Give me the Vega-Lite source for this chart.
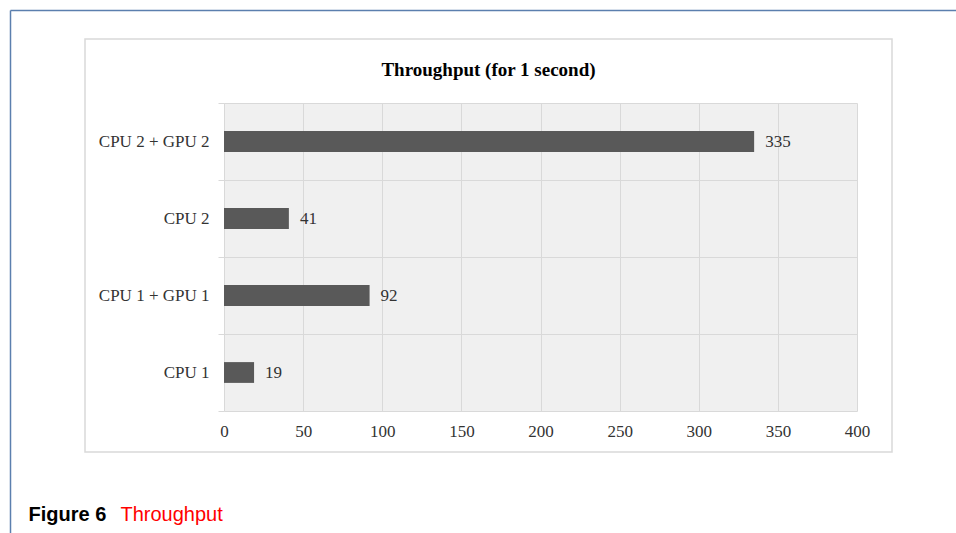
{
  "$schema": "https://vega.github.io/schema/vega-lite/v6.json",
  "width": 807,
  "height": 413,
  "autosize": {"type": "none"},
  "padding": {"left": 85, "top": 39, "right": 64, "bottom": 81},
  "background": "white",
  "config": {
    "view": {"stroke": "#d9d9d9", "strokeWidth": 1.5},
    "axis": {"labelFont": "Liberation Serif", "labelFontSize": 17, "labelColor": "#333333"}
  },
  "title": {
    "text": "Throughput (for 1 second)",
    "font": "Liberation Serif",
    "fontSize": 19,
    "fontWeight": "bold",
    "color": "#000000",
    "anchor": "middle",
    "frame": "group",
    "offset": 0,
    "dy": 88,
    "baseline": "alphabetic"
  },
  "data": {
    "values": [
      {"config": "CPU 2 + GPU 2", "throughput": 335},
      {"config": "CPU 2", "throughput": 41},
      {"config": "CPU 1 + GPU 1", "throughput": 92},
      {"config": "CPU 1", "throughput": 19}
    ]
  },
  "layer": [
    {
      "encoding": {
        "y": {
          "field": "config",
          "type": "nominal",
          "sort": ["CPU 2 + GPU 2", "CPU 2", "CPU 1 + GPU 1", "CPU 1"],
          "scale": {"range": [64, 372], "paddingInner": 0, "paddingOuter": 0},
          "axis": {
            "orient": "left",
            "offset": -139,
            "tickBand": "extent",
            "grid": true,
            "gridColor": "#d9d9d9",
            "gridWidth": 1,
            "ticks": true,
            "tickColor": "#d9d9d9",
            "tickSize": 6,
            "domain": false,
            "labelPadding": 9,
            "title": "Throughput",
            "titleFont": "Liberation Sans",
            "titleFontSize": 20,
            "titleFontWeight": "normal",
            "titleColor": "#ff0000",
            "titleAngle": 0,
            "titleAlign": "left",
            "titleBaseline": "alphabetic",
            "titleX": -104,
            "titleY": 481
          }
        }
      },
      "layer": [
        {
          "mark": {"type": "rect", "fill": "#d9d9d9", "fillOpacity": 0.4},
          "encoding": {
            "x": {"datum": 0, "type": "quantitative"},
            "x2": {"datum": 400}
          }
        },
        {
          "mark": {"type": "bar", "color": "#595959", "height": {"band": 0.27}},
          "encoding": {
            "x": {
              "field": "throughput",
              "type": "quantitative",
              "scale": {"domain": [0, 400], "range": [139, 772], "nice": false},
              "axis": {
                "orient": "top",
                "offset": 0,
                "values": [0, 50, 100, 150, 200, 250, 300, 350, 400],
                "grid": true,
                "gridColor": "#d9d9d9",
                "gridWidth": 1,
                "ticks": false,
                "tickSize": 0,
                "domain": false,
                "labelFlush": false,
                "labelBaseline": "top",
                "labelPadding": -384,
                "title": "Figure 6",
                "titleFont": "Liberation Sans",
                "titleFontSize": 20,
                "titleFontWeight": "bold",
                "titleColor": "#000000",
                "titleAlign": "left",
                "titleBaseline": "alphabetic",
                "titleX": -57,
                "titleY": 481
              }
            }
          }
        },
        {
          "mark": {"type": "text", "align": "left", "baseline": "middle", "dx": 11, "font": "Liberation Serif", "fontSize": 17, "color": "#333333"},
          "encoding": {
            "x": {"field": "throughput", "type": "quantitative"},
            "text": {"field": "throughput", "type": "quantitative"}
          }
        }
      ]
    },
    {
      "data": {"values": [{"a": 0}]},
      "mark": {"type": "point", "opacity": 0},
      "encoding": {
        "x": {
          "datum": 0,
          "type": "quantitative",
          "scale": {"domain": [0, 1], "range": [-75, 871], "nice": false, "zero": false},
          "axis": {"orient": "top", "offset": 29, "domain": true, "domainColor": "#5b7fae", "domainWidth": 1.5, "labels": false, "ticks": false, "grid": false, "title": null}
        },
        "y": {
          "datum": 0,
          "type": "quantitative",
          "scale": {"domain": [0, 1], "range": [-29, 494], "nice": false, "zero": false},
          "axis": {"orient": "left", "offset": 75, "domain": true, "domainColor": "#5b7fae", "domainWidth": 1.5, "labels": false, "ticks": false, "grid": false, "title": null}
        }
      }
    }
  ],
  "resolve": {"scale": {"x": "independent", "y": "independent"}}
}
